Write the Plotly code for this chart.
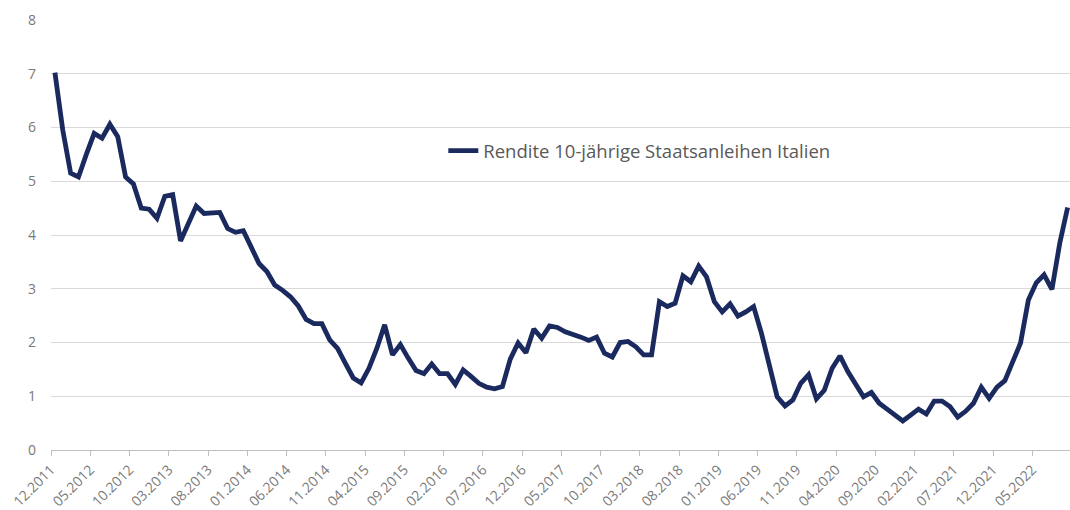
import plotly.graph_objects as go

# Monthly end-of-month yields, 12.2011 .. 09.2022
months = [f"{(11 + i) % 12 + 1:02d}.{2011 + (11 + i) // 12}" for i in range(130)]

rendite = [
    7.02, 5.95, 5.15, 5.08, 5.50, 5.89, 5.80, 6.06, 5.83, 5.08,
    4.95, 4.50, 4.48, 4.31, 4.72, 4.75, 3.89, 4.22, 4.54, 4.40,
    4.40, 4.42, 4.12, 4.05, 4.08, 3.78, 3.47, 3.32, 3.07, 2.97,
    2.85, 2.68, 2.43, 2.35, 2.35, 2.05, 1.89, 1.61, 1.34, 1.25,
    1.52, 1.89, 2.33, 1.77, 1.96, 1.71, 1.48, 1.42, 1.60, 1.42,
    1.42, 1.22, 1.49, 1.37, 1.24, 1.17, 1.14, 1.18, 1.69, 1.99,
    1.81, 2.25, 2.08, 2.31, 2.28, 2.20, 2.16, 2.10, 2.04, 2.10,
    1.80, 1.73, 2.00, 2.02, 1.92, 1.77, 1.77, 2.76, 2.67, 2.73,
    3.24, 3.13, 3.42, 3.22, 2.76, 2.57, 2.72, 2.49, 2.57, 2.67,
    2.17, 1.58, 0.99, 0.82, 0.93, 1.24, 1.40, 0.95, 1.11, 1.52,
    1.75, 1.46, 1.23, 0.99, 1.07, 0.87, 0.76, 0.64, 0.54, 0.65,
    0.76, 0.67, 0.91, 0.91, 0.81, 0.61, 0.72, 0.87, 1.17, 0.96,
    1.17, 1.29, 1.65, 1.99, 2.79, 3.11, 3.26, 2.99, 3.85, 4.51,
]

series_name = "Rendite 10-jährige Staatsanleihen Italien"

# tick marks sit between categories, labelled every 5 months
tick_idx = list(range(0, len(months), 5))
tick_vals = [i - 0.5 for i in tick_idx]
tick_text = [months[i] for i in tick_idx]

grey = "#595959"
tick_grey = "#7a7a7a"

fig = go.Figure(go.Scatter(
    x=list(range(len(months))),
    y=rendite,
    mode="lines",
    name=series_name,
    line=dict(color="#1b2a5e", width=4.8),
))

fig.update_layout(
    width=1070,
    height=510,
    margin=dict(l=51, r=0, t=20, b=60),
    plot_bgcolor="white",
    paper_bgcolor="white",
    font=dict(family="Open Sans, sans-serif", color=grey, size=14),
    showlegend=True,
    legend=dict(
        x=0.385, y=0.695, xanchor="left", yanchor="middle",
        bgcolor="rgba(0,0,0,0)",
        font=dict(size=18.5, color=grey),
    ),
    xaxis=dict(
        range=[-0.5, 129.3],
        automargin=False,
        tickmode="array",
        tickvals=tick_vals,
        ticktext=tick_text,
        tickangle=-45,
        ticks="outside",
        ticklen=5,
        tickcolor="#bfbfbf",
        showline=True,
        linecolor="#bfbfbf",
        linewidth=1,
        showgrid=False,
        zeroline=False,
        tickfont=dict(size=14, color=tick_grey),
    ),
    yaxis=dict(
        range=[0, 8],
        automargin=False,
        dtick=1,
        showgrid=True,
        gridcolor="#d9d9d9",
        gridwidth=1,
        zeroline=False,
        showline=False,
        ticks="",
        ticklabelstandoff=14,
        tickfont=dict(size=14, color=tick_grey),
    ),
)

# drop the default page margin so the figure fills the window exactly
fig.write_html(
    "out.html",
    config={"displayModeBar": False},
    post_script="document.body.style.margin='0';",
)
